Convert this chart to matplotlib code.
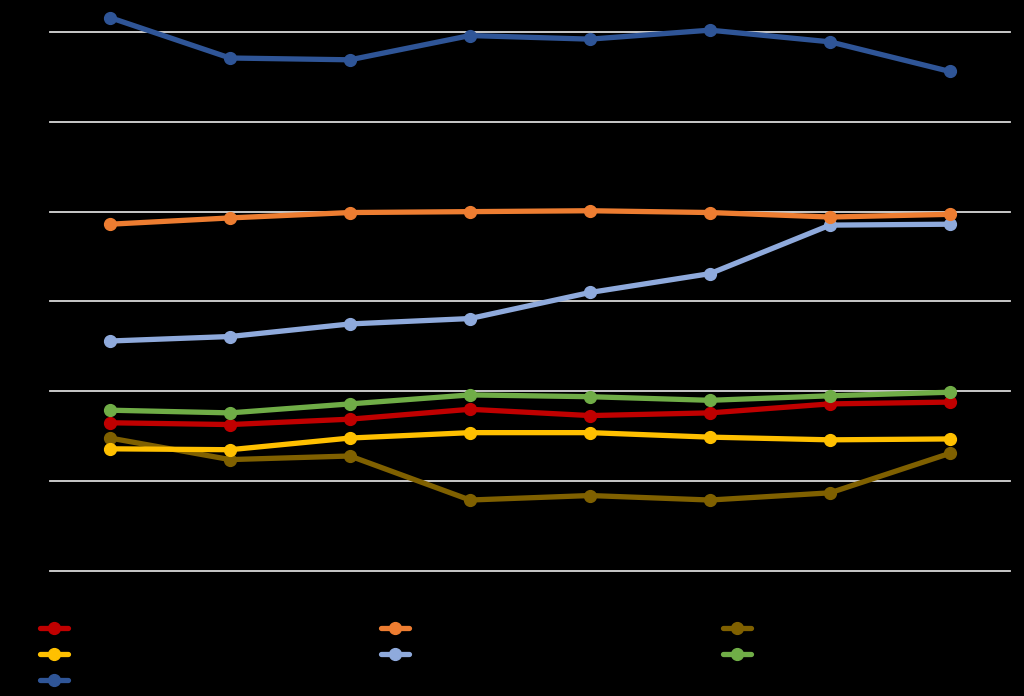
import matplotlib
matplotlib.use("Agg")
import matplotlib.pyplot as plt

## Data (labels are black on black in the original)
categories = ["1", "2", "3", "4", "5", "6", "7", "8"]

red = [16.5, 16.3, 16.9, 18.0, 17.3, 17.6, 18.6, 18.8]
orange = [38.6, 39.3, 39.9, 40.0, 40.1, 39.9, 39.4, 39.7]
brown = [14.8, 12.4, 12.8, 7.9, 8.4, 7.9, 8.7, 13.1]
yellow = [13.6, 13.5, 14.8, 15.4, 15.4, 14.9, 14.6, 14.7]
light_blue = [25.6, 26.1, 27.5, 28.1, 31.0, 33.1, 38.5, 38.6]
green = [17.9, 17.6, 18.6, 19.6, 19.4, 19.0, 19.5, 19.9]
dark_blue = [61.6, 57.1, 56.9, 59.6, 59.2, 60.2, 58.9, 55.6]

series = [
    ("Series 1", red, "#C00000"),
    ("Series 2", orange, "#ED7D31"),
    ("Series 3", brown, "#7F6000"),
    ("Series 4", yellow, "#FFC000"),
    ("Series 5", light_blue, "#8FAADC"),
    ("Series 6", green, "#70AD47"),
    ("Series 7", dark_blue, "#2F5597"),
]

yticks = [0, 10, 20, 30, 40, 50, 60]

fig = plt.figure(figsize=(10.24, 6.96), dpi=100, facecolor="black")
ax = fig.add_axes([50 / 1024, (696 - 571) / 696, 960 / 1024, 566 / 696])
ax.set_facecolor("black")

x = list(range(len(categories)))
lines = {}
# draw back to front like the original
for name, vals, col in [series[2], series[3], series[0], series[5], series[4], series[1], series[6]]:
    ln, = ax.plot(x, vals, color=col, lw=3.8, marker="o", ms=8.5,
                  solid_capstyle="round", label=name)
    lines[name] = ln

ax.set_xlim(-0.5, len(categories) - 0.5)
ax.set_ylim(0, 63)
ax.set_yticks(yticks)
ax.set_xticks(x)
ax.set_xticklabels(categories, color="black")
ax.set_yticklabels([str(v) for v in yticks], color="black")
ax.tick_params(length=0)
ax.yaxis.grid(True, color="#D9D9D9", lw=1.3)
for gl in ax.get_ygridlines():
    gl.set_clip_on(False)
ax.set_axisbelow(True)
for s in ax.spines.values():
    s.set_visible(False)

# legend: three columns placed by hand
cols = [["Series 1", "Series 4", "Series 7"],
        ["Series 2", "Series 5"],
        ["Series 3", "Series 6"]]
xpos = [40 / 1024, 381 / 1024, 723 / 1024]
for names, xp in zip(cols, xpos):
    leg = fig.legend([lines[n] for n in names], names, loc="upper left",
                     bbox_to_anchor=(xp, 1 - 622 / 696), frameon=False,
                     handlelength=2.0, labelspacing=0.85, fontsize=10,
                     borderaxespad=0, borderpad=0)
    for t in leg.get_texts():
        t.set_color("black")

fig.savefig("out.png", dpi=100, facecolor="black")
